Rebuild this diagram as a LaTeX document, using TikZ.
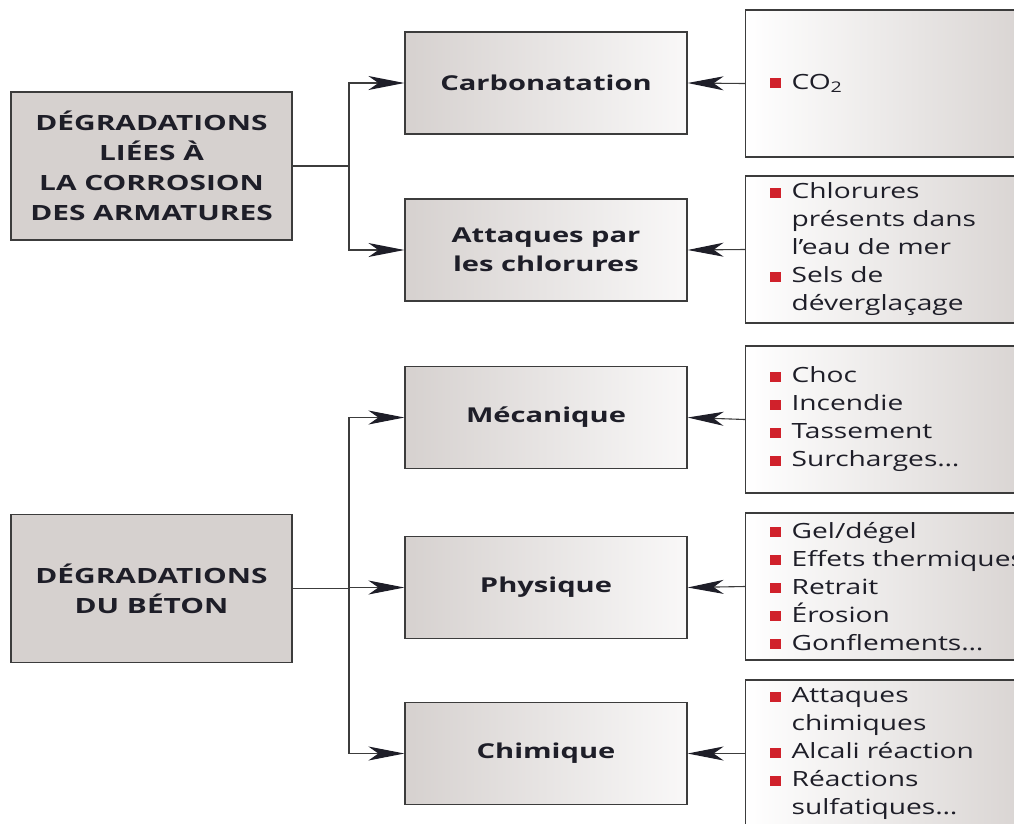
\documentclass[tikz,border=0pt]{standalone}
\usepackage{fontspec}
\setmainfont{Open Sans}[FakeStretch=1.34,BoldFeatures={FakeStretch=1.42}]
\usetikzlibrary{arrows.meta,positioning}
\definecolor{grisfond}{HTML}{D6D1CF}
\definecolor{grisclair}{HTML}{F9F8F8}
\definecolor{trait}{HTML}{3C3C3C}
\definecolor{puce}{HTML}{D0212B}
\definecolor{encre}{HTML}{1E1E28}
\newcommand\puce{\makebox[22pt][l]{\textcolor{puce}{\rule[1pt]{11pt}{10pt}}}}
\newcommand\suite{\hspace*{22pt}}
\tikzset{
  causebox/.style={draw=trait,line width=1.2pt,fill=grisfond,minimum width=281pt,minimum height=148pt,
    align=center,font=\fontsize{21}{30}\selectfont\bfseries,text=encre,inner sep=0pt},
  typebox/.style={draw=trait,line width=1.2pt,left color=grisfond,right color=grisclair,minimum width=282pt,
    minimum height=102pt,align=center,font=\fontsize{20.5}{29}\selectfont\bfseries,text=encre,inner sep=0pt},
  listbox/.style={draw=trait,line width=1.2pt,left color=white,right color=grisfond,minimum width=300pt,
    minimum height=147pt,text width=300pt,align=left,font=\fontsize{21}{28}\selectfont,text=encre,
    inner sep=0pt,anchor=west},
  fleche/.style={draw=trait,line width=1.1pt,-{Stealth[length=36pt,width=14pt,inset=10pt,color=encre]}}
}
\begin{document}
\begin{tikzpicture}[x=1pt,y=-1pt]
\useasboundingbox (0,0) rectangle (1014,823);
\clip (0,0) rectangle (1014,823);
\node[causebox] (corrosion) at (151.5,166) {DÉGRADATIONS\\LIÉES À\\LA CORROSION\\DES ARMATURES};
\node[causebox] (beton) at (151.5,588.5) {DÉGRADATIONS\\DU BÉTON};
\node[typebox] (carbo) at (546,83) {Carbonatation};
\node[typebox] (chlor) at (546,250) {Attaques par\\les chlorures};
\node[typebox] (meca) at (546,417.5) {Mécanique};
\node[typebox] (phys) at (546,587.5) {Physique};
\node[typebox] (chim) at (546,753.5) {Chimique};
\node[listbox] (lcarbo) at (745,83.5) {\hspace*{24pt}\puce CO\textsubscript{2}};
\node[listbox] (lchlor) at (745,249.5) {\hspace*{24pt}\puce Chlorures\\\hspace*{24pt}\suite présents dans\\\hspace*{24pt}\suite l’eau de mer\\\hspace*{24pt}\puce Sels de\\\hspace*{24pt}\suite déverglaçage};
\node[listbox] (lmeca) at (745,419.5) {\hspace*{24pt}\puce Choc\\\hspace*{24pt}\puce Incendie\\\hspace*{24pt}\puce Tassement\\\hspace*{24pt}\puce Surcharges…};
\node[listbox] (lphys) at (745,586.5) {\hspace*{24pt}\puce Gel/dégel\\\hspace*{24pt}\puce Effets thermiques\\\hspace*{24pt}\puce Retrait\\\hspace*{24pt}\puce Érosion\\\hspace*{24pt}\puce Gonflements…};
\node[listbox] (lchim) at (745,753.5) {\hspace*{24pt}\puce Attaques\\\hspace*{24pt}\suite chimiques\\\hspace*{24pt}\puce Alcali réaction\\\hspace*{24pt}\puce Réactions\\\hspace*{24pt}\suite sulfatiques…};
\coordinate (nd1) at (349,166);
\coordinate (nd2) at (349,588.5);
\draw[draw=trait,line width=1.1pt] (corrosion.east) -- (nd1);
\draw[draw=trait,line width=1.1pt] (beton.east) -- (nd2);
\draw[fleche] (nd1) |- (carbo.west);
\draw[fleche] (nd1) |- (chlor.west);
\draw[fleche] (nd2) |- (meca.west);
\draw[fleche] (nd2) |- (phys.west);
\draw[fleche] (nd2) |- (chim.west);
\draw[fleche] (lcarbo.west) -- (carbo.east);
\draw[fleche] (lchlor.west) -- (chlor.east);
\draw[fleche] (lmeca.west) -- (meca.east);
\draw[fleche] (lphys.west) -- (phys.east);
\draw[fleche] (lchim.west) -- (chim.east);
\end{tikzpicture}
\end{document}
